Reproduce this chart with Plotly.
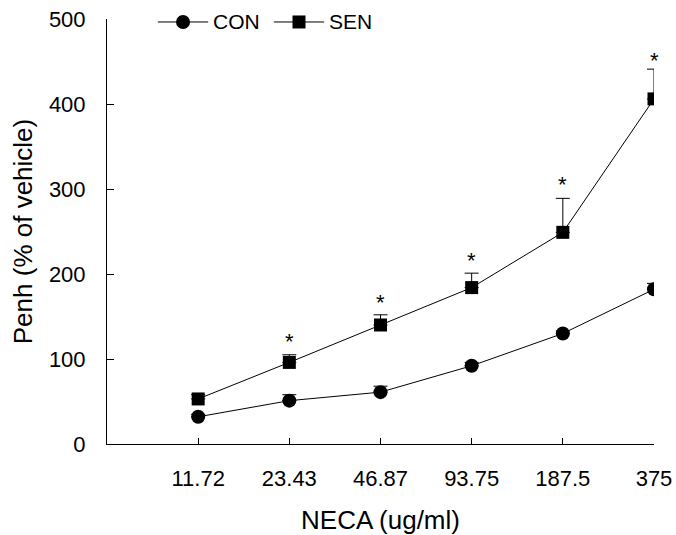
import plotly.graph_objects as go

categories = ["11.72", "23.43", "46.87", "93.75", "187.5", "375"]
con_values = [32, 51, 61, 92, 130, 182]
con_errors = [3, 7, 7, 4, 3, 7]
sen_values = [53, 96, 140, 184, 249, 406]
sen_errors = [5, 9, 12, 17, 40, 35]
star_y = [None, 126, 172, 222, 311, 457]
y_ticks = [0, 100, 200, 300, 400, 500]

xpos = list(range(1, len(categories) + 1))
font_family = "Liberation Sans, Arial, sans-serif"

fig = go.Figure()
fig.add_trace(go.Scatter(
    x=xpos, y=con_values, mode="lines+markers", name="CON",
    line=dict(color="black", width=1),
    marker=dict(symbol="circle", size=14, color="black"),
    error_y=dict(type="data", array=con_errors, arrayminus=[0]*6, symmetric=False,
                 color="black", thickness=1, width=7),
    showlegend=False,
))
fig.add_trace(go.Scatter(
    x=xpos, y=sen_values, mode="lines+markers", name="SEN",
    line=dict(color="black", width=1),
    marker=dict(symbol="square", size=13, color="black"),
    error_y=dict(type="data", array=sen_errors, arrayminus=[0]*6, symmetric=False,
                 color="black", thickness=1, width=7),
    showlegend=False,
))

# significance asterisks
for x, sy in zip(xpos, star_y):
    if sy is not None:
        fig.add_annotation(x=x, y=sy, text="*", showarrow=False, yanchor="middle",
                           yshift=-5, font=dict(size=22, color="black", family=font_family))

# manual legend
legend_items = [("CON", "circle", 0.093), ("SEN", "rect", 0.305)]
for name, shp, x0 in legend_items:
    fig.add_shape(type="line", xref="paper", yref="paper", x0=x0, x1=x0 + 0.092,
                  y0=0.993, y1=0.993, line=dict(color="black", width=1))
    xc = x0 + 0.046
    if shp == "circle":
        fig.add_shape(type="circle", xref="paper", yref="paper", xsizemode="pixel",
                      ysizemode="pixel", xanchor=xc, yanchor=0.993, x0=-7, x1=7,
                      y0=-7, y1=7, fillcolor="black", line=dict(width=0))
    else:
        fig.add_shape(type="rect", xref="paper", yref="paper", xsizemode="pixel",
                      ysizemode="pixel", xanchor=xc, yanchor=0.993, x0=-6.5, x1=6.5,
                      y0=-6.5, y1=6.5, fillcolor="black", line=dict(width=0))
    fig.add_annotation(xref="paper", yref="paper", x=x0 + 0.098, y=0.993, text=name,
                       showarrow=False, xanchor="left", yanchor="middle",
                       font=dict(size=21, color="black", family=font_family))

fig.update_layout(
    width=676, height=535,
    margin=dict(l=107, r=22, t=19, b=91),
    paper_bgcolor="white", plot_bgcolor="white",
    font=dict(family=font_family, size=22, color="black"),
    xaxis=dict(range=[0, 6], tickvals=xpos, ticktext=categories, showgrid=False,
               zeroline=False, showline=True, linecolor="black", linewidth=1,
               ticks="inside", ticklen=6, tickcolor="black", automargin=False,
               title=dict(text="NECA (ug/ml)", standoff=22), ticklabelstandoff=15),
    yaxis=dict(range=[0, 500], tickvals=y_ticks, showgrid=False, zeroline=False,
               showline=True, linecolor="black", linewidth=1,
               ticks="inside", ticklen=7, tickcolor="black", automargin=False,
               title=dict(text="Penh (% of vehicle)", standoff=8), ticklabelstandoff=16),
)

fig.write_html("out.html")
